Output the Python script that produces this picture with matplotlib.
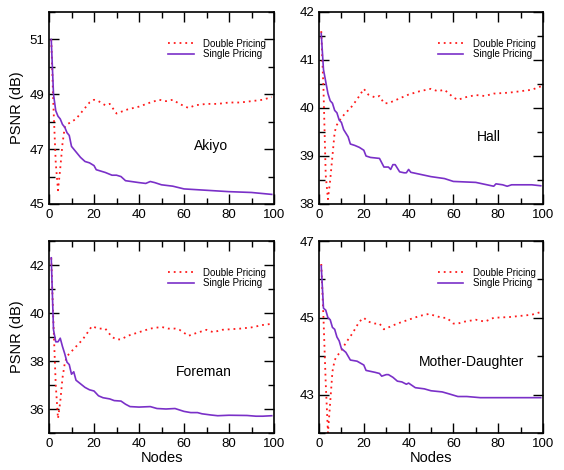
import matplotlib
matplotlib.use("Agg")
import matplotlib.pyplot as plt
from matplotlib.ticker import MultipleLocator

plt.rcParams['font.family'] = ['Liberation Sans', 'DejaVu Sans']

# ---------------- data ----------------
akiyo_single_x = [1, 2, 3, 4, 5, 6, 7, 8, 9, 10, 12, 14, 16, 18, 20, 21, 25, 28, 30, 32, 34, 40, 43, 45, 47, 50, 55, 60, 70, 80, 90, 99]
akiyo_single_y = [51.0, 49.0, 48.4, 48.2, 48.1, 47.9, 47.8, 47.6, 47.5, 47.1, 46.9, 46.7, 46.55, 46.5, 46.4, 46.25, 46.15, 46.05, 46.05, 46.0, 45.85, 45.78, 45.75, 45.82, 45.78, 45.7, 45.65, 45.55, 45.5, 45.45, 45.42, 45.35]
akiyo_double_x = [1, 2, 3, 4, 5, 6, 7, 8, 10, 12, 15, 18, 20, 22, 25, 27, 30, 35, 40, 45, 49, 52, 55, 58, 62, 65, 70, 75, 80, 85, 90, 95, 99]
akiyo_double_y = [51.0, 48.5, 46.5, 45.5, 46.3, 47.2, 47.8, 47.9, 48.0, 48.1, 48.4, 48.7, 48.8, 48.75, 48.6, 48.65, 48.3, 48.45, 48.55, 48.7, 48.8, 48.75, 48.8, 48.65, 48.5, 48.6, 48.65, 48.65, 48.7, 48.7, 48.75, 48.8, 48.9]

hall_single_x = [1, 2, 3, 4, 5, 6, 7, 8, 9, 10, 11, 13, 14, 16, 18, 20, 21, 23, 27, 29, 31, 32, 33, 34, 36, 38, 39, 40, 41, 45, 50, 56, 60, 65, 70, 75, 78, 79, 82, 84, 86, 90, 95, 99]
hall_single_y = [41.55, 40.8, 40.55, 40.3, 40.15, 40.1, 39.95, 39.9, 39.75, 39.7, 39.55, 39.4, 39.25, 39.22, 39.18, 39.12, 39.0, 38.97, 38.95, 38.77, 38.77, 38.72, 38.82, 38.82, 38.67, 38.65, 38.65, 38.72, 38.66, 38.62, 38.57, 38.53, 38.47, 38.46, 38.45, 38.4, 38.37, 38.42, 38.4, 38.37, 38.4, 38.4, 38.4, 38.38]
hall_double_x = [1, 2, 3, 4, 5, 6, 7, 8, 10, 12, 15, 18, 20, 22, 25, 27, 29, 31, 35, 40, 45, 50, 53, 56, 60, 62, 65, 70, 74, 78, 85, 90, 95, 99]
hall_double_y = [41.6, 40.4, 38.6, 38.1, 38.5, 39.0, 39.5, 39.65, 39.8, 39.9, 40.05, 40.25, 40.4, 40.28, 40.22, 40.25, 40.1, 40.1, 40.18, 40.28, 40.35, 40.4, 40.35, 40.38, 40.22, 40.17, 40.22, 40.27, 40.25, 40.3, 40.32, 40.35, 40.38, 40.45]

foreman_single_x = [1, 2, 3, 4, 5, 6, 7, 8, 9, 10, 11, 12, 14, 16, 18, 20, 22, 24, 27, 29, 32, 34, 36, 40, 45, 48, 52, 56, 60, 63, 66, 68, 72, 75, 80, 88, 92, 95, 99]
foreman_single_y = [42.3, 39.3, 38.8, 38.8, 38.95, 38.6, 38.3, 37.95, 37.85, 37.45, 37.55, 37.2, 37.05, 36.9, 36.8, 36.75, 36.55, 36.47, 36.42, 36.35, 36.33, 36.2, 36.1, 36.08, 36.1, 36.02, 36.0, 36.02, 35.9, 35.85, 35.85, 35.8, 35.75, 35.72, 35.74, 35.73, 35.7, 35.7, 35.72]
foreman_double_x = [1, 2, 3, 4, 5, 6, 7, 8, 10, 12, 15, 18, 19, 22, 25, 28, 30, 32, 35, 40, 45, 50, 53, 56, 58, 62, 65, 70, 73, 77, 85, 90, 95, 99]
foreman_double_y = [42.3, 39.5, 37.0, 35.6, 36.3, 37.3, 37.9, 38.2, 38.4, 38.6, 38.9, 39.3, 39.45, 39.35, 39.35, 39.0, 38.9, 38.9, 39.05, 39.2, 39.35, 39.42, 39.35, 39.35, 39.3, 39.05, 39.15, 39.3, 39.2, 39.3, 39.35, 39.4, 39.5, 39.55]

md_single_x = [1, 2, 3, 4, 5, 6, 7, 8, 9, 10, 12, 14, 17, 20, 21, 25, 27, 28, 30, 31, 33, 35, 37, 39, 40, 43, 47, 50, 55, 58, 62, 66, 72, 80, 90, 99]
md_single_y = [46.35, 45.25, 45.2, 45.0, 44.95, 44.75, 44.7, 44.5, 44.4, 44.2, 44.1, 43.9, 43.87, 43.77, 43.63, 43.58, 43.55, 43.48, 43.52, 43.52, 43.45, 43.35, 43.33, 43.27, 43.3, 43.18, 43.15, 43.1, 43.07, 43.02, 42.95, 42.95, 42.92, 42.92, 42.92, 42.92]
md_double_x = [1, 2, 3, 4, 5, 6, 7, 8, 10, 12, 15, 18, 20, 22, 25, 27, 29, 31, 35, 40, 45, 49, 52, 55, 57, 60, 62, 65, 70, 74, 78, 85, 90, 95, 99]
md_double_y = [46.4, 45.0, 43.3, 42.0, 42.8, 43.6, 43.9, 44.0, 44.15, 44.35, 44.6, 44.9, 45.0, 44.9, 44.85, 44.85, 44.7, 44.75, 44.85, 44.95, 45.05, 45.1, 45.05, 45.0, 45.0, 44.85, 44.85, 44.9, 44.95, 44.9, 45.0, 45.02, 45.05, 45.08, 45.15]

names = ["Akiyo", "Hall", "Foreman", "Mother-Daughter"]
labels = ["Double Pricing", "Single Pricing"]

# ---------------- figure ----------------
fig = plt.figure(figsize=(5.64, 4.70), dpi=100)
W, H = 564.0, 470.0
boxes = [(49, 12, 225, 192), (319, 12, 224, 192), (49, 241, 225, 192), (319, 241, 224, 192)]
panels = [
    (akiyo_single_x, akiyo_single_y, akiyo_double_x, akiyo_double_y, (45, 52), 2, 1, (0.72, 0.30)),
    (hall_single_x, hall_single_y, hall_double_x, hall_double_y, (38, 42), 1, 0.5, (0.76, 0.35)),
    (foreman_single_x, foreman_single_y, foreman_double_x, foreman_double_y, (35, 43), 2, 1, (0.69, 0.32)),
    (md_single_x, md_single_y, md_double_x, md_double_y, (42, 47), 2, 1, (0.68, 0.37)),
]
purple = "#7a30c8"
red = "#ff1a1a"

for i, (box, p) in enumerate(zip(boxes, panels)):
    l, t, w, h = box
    ax = fig.add_axes([l / W, (H - t - h) / H, w / W, h / H])
    sx, sy, dx, dy, ylim, maj, mnr, tpos = p
    ax.plot(dx, dy, color=red, linestyle=(0, (1, 2.2)), linewidth=1.3, label=labels[0])
    ax.plot(sx, sy, color=purple, linestyle='-', linewidth=1.2, label=labels[1])
    ax.set_xlim(0, 100)
    ax.set_ylim(*ylim)
    ax.xaxis.set_major_locator(MultipleLocator(20))
    ax.xaxis.set_minor_locator(MultipleLocator(10))
    if i == 3:
        ax.set_yticks([43, 45, 47])
        ax.yaxis.set_minor_locator(MultipleLocator(1))
    elif i == 0:
        ax.set_yticks([45, 47, 49, 51])
        ax.yaxis.set_minor_locator(MultipleLocator(1))
    else:
        ax.yaxis.set_major_locator(MultipleLocator(maj))
        ax.yaxis.set_minor_locator(MultipleLocator(mnr))
    ax.tick_params(which='both', direction='in', top=True, right=True, labelsize=9.5)
    ax.tick_params(which='major', length=7, width=1.0)
    ax.tick_params(which='minor', length=4, width=1.0)
    for s in ax.spines.values():
        s.set_linewidth(1.2)
    ax.text(tpos[0], tpos[1], names[i], transform=ax.transAxes, ha='center', va='center', fontsize=10)
    ax.legend(loc='upper left', bbox_to_anchor=(0.53, 0.86), frameon=False, fontsize=7,
              handlelength=2.6, handletextpad=1.0, labelspacing=0.05, borderpad=0, borderaxespad=0)
    if i in (0, 2):
        ax.set_ylabel("PSNR (dB)", fontsize=10.5, labelpad=4)
    if i in (2, 3):
        ax.set_xlabel("Nodes", fontsize=10.5, labelpad=1)

fig.savefig("out.png", dpi=100)
